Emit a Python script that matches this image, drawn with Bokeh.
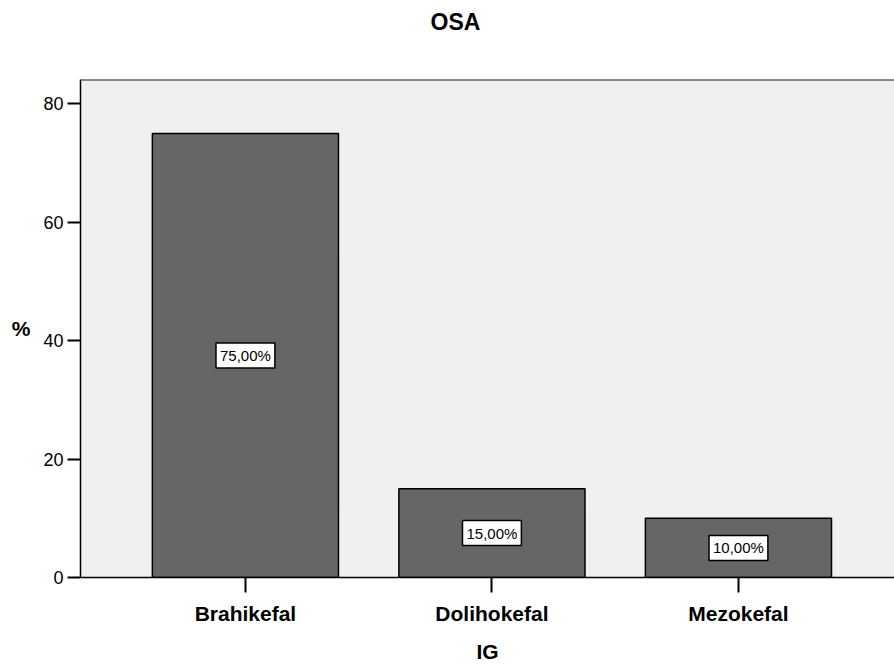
from bokeh.plotting import figure
from bokeh.models import Range1d, FixedTicker, ColumnDataSource, Label, Span, Title
from bokeh.embed import file_html
from bokeh.resources import INLINE

title_text = "OSA"
categories = ["Brahikefal", "Dolihokefal", "Mezokefal"]
percents = [75.0, 15.0, 10.0]
labels = ["75,00%", "15,00%", "10,00%"]
y_ticks = [0, 20, 40, 60, 80]

FONT = "Liberation Sans"
idx = list(range(len(categories)))
src = ColumnDataSource(dict(x=idx, top=percents))

p = figure(width=894, height=665, output_backend="svg", toolbar_location=None, title=None,
           x_range=Range1d(-0.669, 2.633), y_range=Range1d(0, 84.13),
           min_border_left=80, min_border_right=0, min_border_top=79, min_border_bottom=87)
p.background_fill_color = "#F0F0F0"
p.border_fill_color = "white"
p.outline_line_color = None
p.grid.visible = False

p.vbar(x="x", top="top", bottom=0, width=0.755, source=src,
       fill_color="#666666", line_color="black", line_width=1.5)

for i, v, t in zip(idx, percents, labels):
    p.add_layout(Label(x=i, y=v / 2, text=t, text_align="center", text_baseline="middle",
                       text_font=FONT, text_font_size="15px", text_color="black",
                       background_fill_color="white", border_line_color="black",
                       border_line_width=1.5, padding=4))

p.add_layout(Span(location=84.13, dimension="width", line_color="#222222", line_width=2))

# spacer between frame and title, then the title itself
p.add_layout(Title(text=" ", text_font_size="1px", standoff=42), "above")
p.add_layout(Title(text=title_text, text_font=FONT, text_font_size="23px", text_font_style="bold",
                   text_color="black", align="left", offset=350, vertical_align="bottom",
                   standoff=0), "above")

xa = p.xaxis[0]
xa.ticker = FixedTicker(ticks=idx)
xa.major_label_overrides = {i: c for i, c in zip(idx, categories)}
xa.axis_label = "IG"
xa.axis_label_text_font = FONT
xa.axis_label_text_font_size = "21px"
xa.axis_label_text_font_style = "bold"
xa.axis_label_text_color = "black"
xa.axis_label_standoff = 12
xa.major_label_text_font = FONT
xa.major_label_text_font_size = "21px"
xa.major_label_text_font_style = "bold"
xa.major_label_text_color = "black"
xa.major_label_standoff = 9
xa.major_tick_out = 15
xa.major_tick_in = 0
xa.minor_tick_line_color = None
xa.axis_line_color = "black"
xa.axis_line_width = 1.5
xa.major_tick_line_color = "black"
xa.major_tick_line_width = 2

ya = p.yaxis[0]
ya.ticker = FixedTicker(ticks=y_ticks)
ya.axis_label = "%"
ya.axis_label_orientation = "horizontal"
ya.axis_label_text_font = FONT
ya.axis_label_text_font_size = "21px"
ya.axis_label_text_font_style = "bold"
ya.axis_label_text_color = "black"
ya.axis_label_standoff = 10
ya.major_label_text_font = FONT
ya.major_label_text_font_size = "18px"
ya.major_label_text_color = "black"
ya.major_label_standoff = 4
ya.major_tick_out = 13
ya.major_tick_in = 0
ya.minor_tick_line_color = None
ya.axis_line_color = "black"
ya.axis_line_width = 1.5
ya.major_tick_line_color = "black"
ya.major_tick_line_width = 2

open("out.html", "w").write(file_html(p, INLINE))
